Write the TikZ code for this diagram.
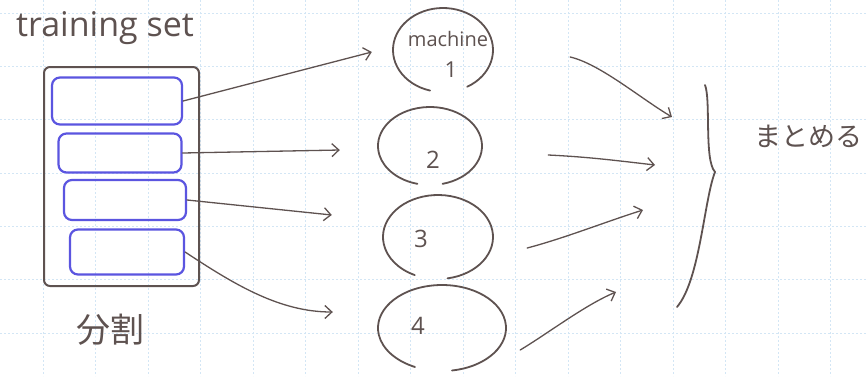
\documentclass[tikz,border=0pt]{standalone}
\usepackage{fontspec}
\setmainfont{Open Sans}
\newfontfamily\jpfont{Noto Sans CJK JP}
\usetikzlibrary{shapes.geometric,arrows.meta}
\definecolor{pen}{HTML}{5E5250}
\definecolor{bluepen}{HTML}{5B55E0}
\definecolor{gridblue}{HTML}{D3E6F5}
\tikzset{
  gridline/.style={gridblue, line width=0.6pt, dash pattern=on 2pt off 2pt},
  inkline/.style={pen, line width=1.8pt, line cap=round, line join=round},
  thinink/.style={pen, line width=1.3pt, line cap=round},
  splitbox/.style={draw=bluepen, line width=2.2pt, rounded corners=8pt, inner sep=0pt},
  machine/.style={ellipse, draw=none, inner sep=0pt},
  flow/.style={thinink, -{Straight Barb[length=7pt,width=13pt,line width=1.3pt]}},
  hand/.style={pen, inner sep=0pt}
}
\begin{document}
\begin{tikzpicture}[x=1pt,y=-1pt]
\useasboundingbox (0,0) rectangle (868,376);
\fill[white] (0,0) rectangle (868,376);
% graph paper
\foreach \k in {0,...,15} \draw[gridline] ({43+52.5*\k},0) -- ({43+52.5*\k},376);
\foreach \k in {0,...,6} \draw[gridline] (0,{13+53.3*\k}) -- (868,{13+53.3*\k});

% training set and its four parts
\node[hand, font=\fontsize{34}{34}\selectfont] (title) at (105,28) {training set};
\node[draw=pen, line width=2pt, rounded corners=6pt, minimum width=155pt, minimum height=219pt, inner sep=0pt] (set) at (121.5,176.5) {};
\node[splitbox, minimum width=130pt, minimum height=47pt] (b1) at (117,101) {};
\node[splitbox, minimum width=123pt, minimum height=39pt] (b2) at (120,153) {};
\node[splitbox, minimum width=122pt, minimum height=40pt] (b3) at (125,200) {};
\node[splitbox, minimum width=114pt, minimum height=45pt] (b4) at (127,252) {};
\node[hand, font=\jpfont\fontsize{34}{34}\selectfont] (split) at (110,330) {分割};

% machines (open hand-drawn loops, gap at the bottom)
\node[machine, minimum width=100pt, minimum height=84pt] (m1) at (443,50) {};
\node[machine, minimum width=104pt, minimum height=78pt] (m2) at (430,146) {};
\node[machine, minimum width=110pt, minimum height=84pt] (m3) at (438,237) {};
\node[machine, minimum width=128pt, minimum height=86pt] (m4) at (442,328) {};
\draw[inkline] (m1.center) ++(-61:50pt and 42pt) arc[start angle=-61, end angle=255, x radius=50pt, y radius=42pt];
\draw[inkline] (m2.center) ++(-76:52pt and 39pt) arc[start angle=-76, end angle=256, x radius=52pt, y radius=39pt];
\draw[inkline] (m3.center) ++(-80:55pt and 42pt) arc[start angle=-80, end angle=245, x radius=55pt, y radius=42pt];
\draw[inkline] (m4.center) ++(-81:64pt and 43pt) arc[start angle=-81, end angle=245, x radius=64pt, y radius=43pt];
\node[hand, font=\fontsize{20}{20}\selectfont] (t1) at (448,39) {machine};
\node[hand, font=\fontsize{22}{22}\selectfont] (n1) at (451,70) {1};
\node[hand, font=\fontsize{24}{24}\selectfont] (n2) at (433,160) {2};
\node[hand, font=\fontsize{24}{24}\selectfont] (n3) at (421,239) {3};
\node[hand, font=\fontsize{24}{24}\selectfont] (n4) at (418,326) {4};

% distribution arrows
\draw[flow] (b1.east) -- ([xshift=-21pt,yshift=-2pt]m1.west);
\draw[flow] (b2.east) -- ([xshift=-38pt,yshift=-4pt]m2.west);
\draw[flow] (b3.east) -- ([xshift=-51pt,yshift=22pt]m3.west);
\draw[flow] (b4.east) .. controls (235,285) and (280,312) .. ([xshift=-45pt,yshift=16pt]m4.west);

% collecting arrows and brace
\coordinate (c1) at (672,117);
\coordinate (c2) at (655,165);
\coordinate (c3) at (643,210);
\coordinate (c4) at (616,292);
\draw[flow] ([xshift=77pt,yshift=-7pt]m1.east) .. controls (600,64) and (640,98) .. (c1);
\draw[flow] ([xshift=66pt,yshift=-9pt]m2.east) .. controls (590,157) and (620,161) .. (c2);
\draw[flow] ([xshift=34pt,yshift=-11pt]m3.east) .. controls (565,238) and (605,222) .. (c3);
\draw[flow] ([xshift=14pt,yshift=-22pt]m4.east) .. controls (550,332) and (585,305) .. (c4);
\coordinate (bt) at (705,85);
\coordinate (bm) at (715,172);
\coordinate (bb) at (677,307);
\draw[inkline] (bt) .. controls (711,100) and (704,160) .. (bm)
  .. controls (704,200) and (700,280) .. (bb);
\node[hand, font=\jpfont\fontsize{27}{27}\selectfont] (merge) at (808,136) {まとめる};
\end{tikzpicture}
\end{document}
